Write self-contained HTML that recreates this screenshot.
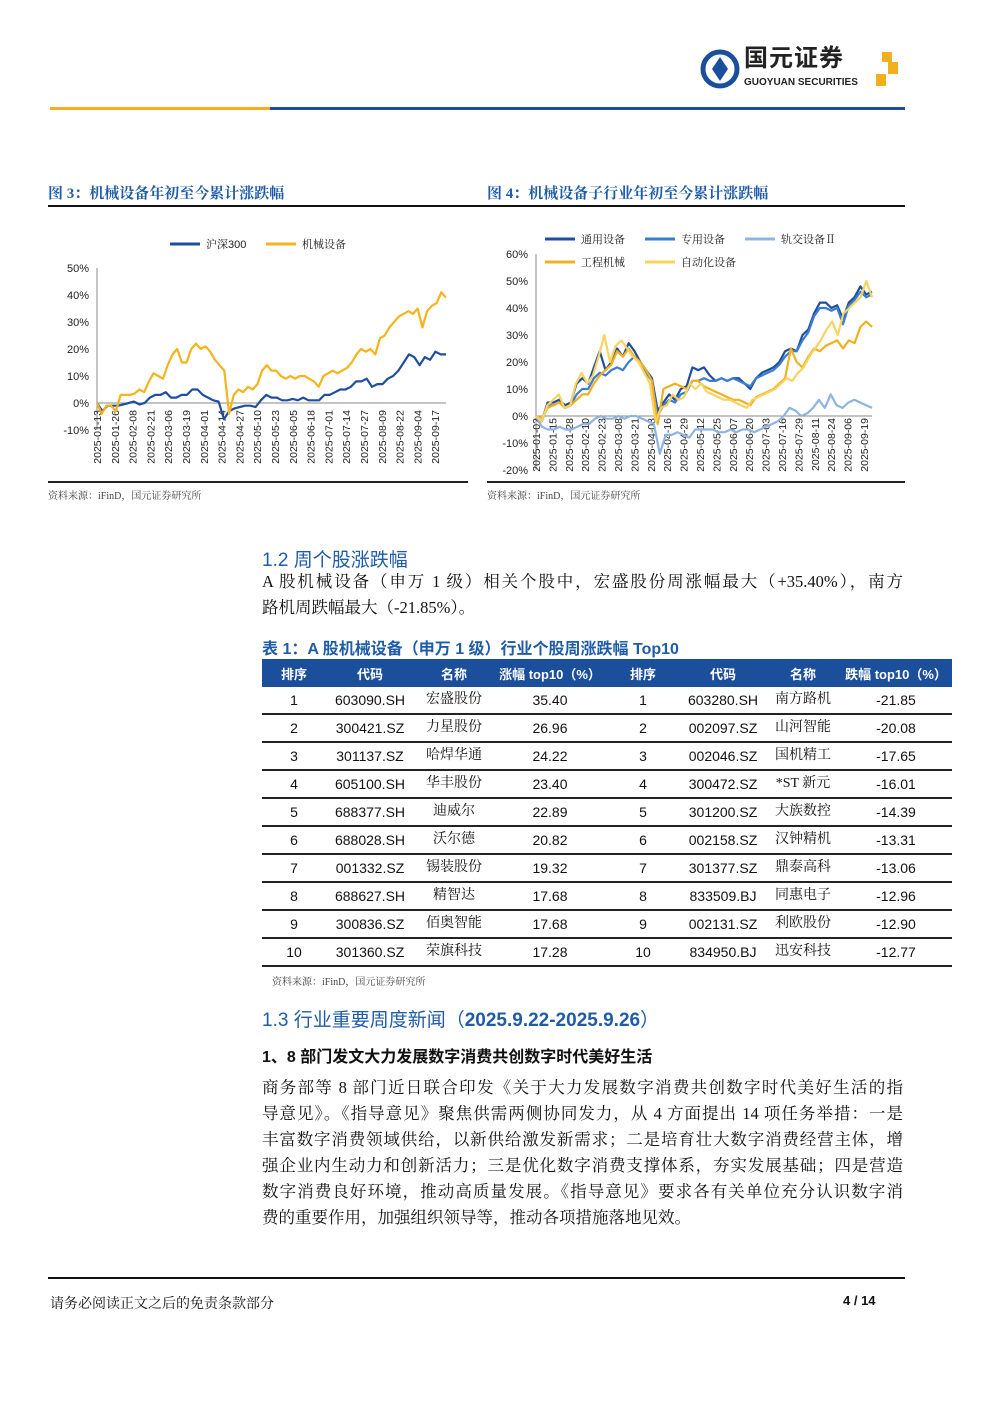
<!DOCTYPE html>
<html><head><meta charset="utf-8">
<style>
body{margin:0;background:#fff;}
#page{position:relative;width:1000px;height:1414px;overflow:hidden;background:#fff;font-family:"Liberation Sans","Noto Sans CJK SC",sans-serif;color:#111;}
.abs{position:absolute;white-space:nowrap;}
.ser{font-family:"Liberation Serif","Noto Serif CJK SC",serif;}
.blue{color:#1f5ca8;}
.line{position:absolute;left:262px;width:641px;font-size:16.5px;line-height:20px;text-align:justify;text-align-last:justify;white-space:nowrap;font-family:"Liberation Serif","Noto Serif CJK SC",serif;overflow:hidden;}
table{border-collapse:collapse;position:absolute;left:262px;top:659px;width:690px;font-size:14px;table-layout:fixed;}
th{background:#1b4f9c;color:#fff;height:28px;padding:0;font-weight:bold;font-size:13px;white-space:nowrap;}
td{height:26px;padding:0;text-align:center;border-bottom:2px solid #222;white-space:nowrap;line-height:26px;}
td.n{font-family:"Liberation Serif","Noto Serif CJK SC",serif;}
</style></head><body>
<div id="page">
<div>
<svg class="abs" style="left:700px;top:48px" width="210" height="42">
<circle cx="20" cy="21" r="17" fill="none" stroke="#1b4f9c" stroke-width="5"/>
<path d="M20 9 L28 21 L20 33 L12 21Z" fill="#1b4f9c"/>
<rect x="182" y="4" width="10" height="10" fill="#f2b01e"/><rect x="188" y="14" width="10" height="12" fill="#f2b01e"/><rect x="176" y="26" width="10" height="12" fill="#f2b01e"/>
</svg>
<div class="abs" style="left:744px;top:44px;font-size:24px;line-height:30px;font-weight:bold;color:#222;letter-spacing:1px">国元证券</div>
<div class="abs" style="left:744px;top:77px;font-size:10px;line-height:12px;font-weight:bold;color:#222">GUOYUAN SECURITIES</div>
</div>
<div class="abs" style="left:50px;top:107px;width:220px;height:3px;background:#f2b01e"></div>
<div class="abs" style="left:270px;top:107px;width:635px;height:3px;background:#1b4f9c"></div>

<div class="abs blue ser" style="left:48px;top:182px;font-size:15px;font-weight:bold">图 3：机械设备年初至今累计涨跌幅</div>
<div class="abs blue ser" style="left:487px;top:182px;font-size:15px;font-weight:bold">图 4：机械设备子行业年初至今累计涨跌幅</div>
<div class="abs" style="left:48px;top:205px;width:857px;height:1.5px;background:#111"></div>

<svg id="c1" class="abs" style="left:0;top:0" width="470" height="480"></svg>
<svg id="c2" class="abs" style="left:470px;top:0" width="450" height="480"></svg>
<div class="abs" style="left:48px;top:481px;width:420px;height:1.5px;background:#222"></div>
<div class="abs" style="left:487px;top:481px;width:418px;height:1.5px;background:#222"></div>
<div class="abs ser" style="left:48px;top:487px;font-size:10px;color:#444">资料来源：iFinD，国元证券研究所</div>
<div class="abs ser" style="left:487px;top:487px;font-size:10px;color:#444">资料来源：iFinD，国元证券研究所</div>

<div class="abs blue" style="left:262px;top:545px;font-size:19px">1.2 周个股涨跌幅</div>
<div class="line" style="top:572px">A 股机械设备（申万 1 级）相关个股中，宏盛股份周涨幅最大（+35.40%），南方</div>
<div class="line" style="top:598px;text-align-last:left">路机周跌幅最大（-21.85%）。</div>
<div class="abs blue" style="left:262px;top:635px;font-size:16px;font-weight:bold">表 1：A 股机械设备（申万 1 级）行业个股周涨跌幅 Top10</div>

<table>
<colgroup><col style="width:64px"><col style="width:88px"><col style="width:80px"><col style="width:112px"><col style="width:74px"><col style="width:86px"><col style="width:74px"><col style="width:112px"></colgroup>
<tr><th>排序</th><th>代码</th><th>名称</th><th>涨幅 top10（%）</th><th>排序</th><th>代码</th><th>名称</th><th>跌幅 top10（%）</th></tr>
<tr><td>1</td><td>603090.SH</td><td class="n">宏盛股份</td><td>35.40</td><td>1</td><td>603280.SH</td><td class="n">南方路机</td><td>-21.85</td></tr>
<tr><td>2</td><td>300421.SZ</td><td class="n">力星股份</td><td>26.96</td><td>2</td><td>002097.SZ</td><td class="n">山河智能</td><td>-20.08</td></tr>
<tr><td>3</td><td>301137.SZ</td><td class="n">哈焊华通</td><td>24.22</td><td>3</td><td>002046.SZ</td><td class="n">国机精工</td><td>-17.65</td></tr>
<tr><td>4</td><td>605100.SH</td><td class="n">华丰股份</td><td>23.40</td><td>4</td><td>300472.SZ</td><td class="n">*ST 新元</td><td>-16.01</td></tr>
<tr><td>5</td><td>688377.SH</td><td class="n">迪威尔</td><td>22.89</td><td>5</td><td>301200.SZ</td><td class="n">大族数控</td><td>-14.39</td></tr>
<tr><td>6</td><td>688028.SH</td><td class="n">沃尔德</td><td>20.82</td><td>6</td><td>002158.SZ</td><td class="n">汉钟精机</td><td>-13.31</td></tr>
<tr><td>7</td><td>001332.SZ</td><td class="n">锡装股份</td><td>19.32</td><td>7</td><td>301377.SZ</td><td class="n">鼎泰高科</td><td>-13.06</td></tr>
<tr><td>8</td><td>688627.SH</td><td class="n">精智达</td><td>17.68</td><td>8</td><td>833509.BJ</td><td class="n">同惠电子</td><td>-12.96</td></tr>
<tr><td>9</td><td>300836.SZ</td><td class="n">佰奥智能</td><td>17.68</td><td>9</td><td>002131.SZ</td><td class="n">利欧股份</td><td>-12.90</td></tr>
<tr><td>10</td><td>301360.SZ</td><td class="n">荣旗科技</td><td>17.28</td><td>10</td><td>834950.BJ</td><td class="n">迅安科技</td><td>-12.77</td></tr>
</table>
<div class="abs ser" style="left:272px;top:973px;font-size:10px;color:#444">资料来源：iFinD，国元证券研究所</div>

<div class="abs blue" style="left:262px;top:1005px;font-size:19px">1.3 行业重要周度新闻（<b>2025.9.22-2025.9.26</b>）</div>
<div class="abs" style="left:262px;top:1043px;font-size:16px;font-weight:bold">1、8 部门发文大力发展数字消费共创数字时代美好生活</div>
<div class="line" style="top:1078px">商务部等 8 部门近日联合印发《关于大力发展数字消费共创数字时代美好生活的指</div>
<div class="line" style="top:1104px">导意见》。《指导意见》聚焦供需两侧协同发力，从 4 方面提出 14 项任务举措：一是</div>
<div class="line" style="top:1130px">丰富数字消费领域供给，以新供给激发新需求；二是培育壮大数字消费经营主体，增</div>
<div class="line" style="top:1156px">强企业内生动力和创新活力；三是优化数字消费支撑体系，夯实发展基础；四是营造</div>
<div class="line" style="top:1182px">数字消费良好环境，推动高质量发展。《指导意见》要求各有关单位充分认识数字消</div>
<div class="line" style="top:1208px;text-align-last:left">费的重要作用，加强组织领导等，推动各项措施落地见效。</div>

<div class="abs" style="left:48px;top:1277px;width:857px;height:2px;background:#111"></div>
<div class="abs ser" style="left:50px;top:1293px;font-size:14px">请务必阅读正文之后的免责条款部分</div>
<div class="abs" style="left:843px;top:1293px;font-size:13px;font-weight:bold">4 / 14</div>
</div>

<script>
const c1Ticks = [50,40,30,20,10,0,-10];
const c1Dates = ["2025-01-13","2025-01-26","2025-02-08","2025-02-21","2025-03-06","2025-03-19","2025-04-01","2025-04-14","2025-04-27","2025-05-10","2025-05-23","2025-06-05","2025-06-18","2025-07-01","2025-07-14","2025-07-27","2025-08-09","2025-08-22","2025-09-04","2025-09-17"];
const c1Names = ["沪深300","机械设备"];
const hs300 = [0,-3,-1,-1,-1,-0.5,0,0.5,-0.5,0,2,3,3,4,2,2,3,3,5,5,3,2,1,0.5,-6,-3,-2,-1.5,-1,-1,-1.5,1,3,2,2,1,1,1.5,1,2,1,1,1,3,3,4,5,5,6,8,8,9,6,7,7,9,10,12,15,18,17,14,17,16,19,18,18];
const jixie = [0,-4,-1,-1,-3,3,3,3,3.5,5,4,8,11,10,9,14,18,20,15,15,20,22,20,21,19,16,14,12,-4,3,5,4,6,5,7,12,14,12,12,10,9,10,9,10,10,9,8,6,10,11,12,11,12,13,15,18,20,19,20,18,24,25,28,30,32,33,34,33,35,28,34,36,37,41,39];
const c2Ticks = [60,50,40,30,20,10,0,-10,-20];
const c2Dates = ["2025-01-02","2025-01-15","2025-01-28","2025-02-10","2025-02-23","2025-03-08","2025-03-21","2025-04-03","2025-04-16","2025-04-29","2025-05-12","2025-05-25","2025-06-07","2025-06-20","2025-07-03","2025-07-16","2025-07-29","2025-08-11","2025-08-24","2025-09-06","2025-09-19"];
const c2Names = ["通用设备","专用设备","轨交设备Ⅱ","工程机械","自动化设备"];
const tongyong = [0,-2,5,5,6,4,5,12,14,12,18,24,17,20,25,22,27,24,20,17,14,2,5,8,6,10,11,18,17,18,15,13,14,13,14,14,12,10,14,16,17,18,20,24,25,24,30,32,38,42,42,40,41,36,42,44,48,45,46];
const zhuanyong = [0,-2,4,4,5,3,4,8,10,10,14,16,15,17,18,17,20,22,19,16,13,0,4,6,5,8,9,13,13,14,13,13,14,13,14,13,12,11,14,15,16,17,19,22,24,24,28,31,37,40,40,39,40,34,41,43,46,44,45];
const guijiao = [0,-4,-5,-5,-4,-5,-5,-4,-3,-3,-1,0,-1,-1,0,-1,0,0,-1,-2,-3,-14,-7,-7,-6,-7,-8,-5,-5,-5,-5,-6,-6,-5,-6,-5,-5,-6,-5,-4,-3,-2,0,3,2,0,1,3,6,3,8,4,3,5,6,5,4,3];
const gongcheng = [0,-1,3,4,5,3,4,6,8,8,12,15,17,19,24,22,25,22,20,17,13,-3,10,11,12,11,10,13,13,11,10,9,8,7,6,6,5,4,7,8,9,10,12,14,25,20,18,22,25,24,26,27,28,25,28,27,33,35,33];
const zidonghua = [0,-2,4,6,8,3,4,12,16,12,15,22,30,20,26,28,25,22,20,16,12,-2,3,4,8,6,7,12,10,12,9,8,7,6,6,5,4,3,6,7,8,9,10,12,14,13,16,18,22,25,28,32,35,30,38,40,42,44,50,44];

const NS="http://www.w3.org/2000/svg";
function mk(svg,tag,attrs,txt){const e=document.createElementNS(NS,tag);for(const k in attrs)e.setAttribute(k,attrs[k]);if(txt!==undefined)e.textContent=txt;svg.appendChild(e);return e;}

function drawChart(svg,cfg){
  const yS=v=>cfg.y0+(cfg.yMax-v)/(cfg.yMax-cfg.yMin)*(cfg.y1-cfg.y0);
  const xIdx=(i,n)=>cfg.x0+i/(n-1)*(cfg.x1-cfg.x0);
  const ya=mk(svg,'line',{x1:cfg.x0,x2:cfg.x0,y1:cfg.y0,y2:cfg.y1,stroke:'#888','stroke-width':1});
  
  
  cfg.ticks.forEach(t=>{
    const tl=mk(svg,'text',{x:cfg.x0-8,y:yS(t)+4,'text-anchor':'end','font-size':11,fill:'#222','font-family':'Liberation Sans, sans-serif'},t+'%');
    
    
  });
  const xa=mk(svg,'line',{x1:cfg.x0,x2:cfg.x1,y1:yS(0),y2:yS(0),stroke:'#888','stroke-width':1});
  
  
  cfg.dates.forEach((d,i)=>{
    const x=cfg.x0+i*cfg.dStep+4;
    const tx=mk(svg,'text',{x:0,y:0,transform:`translate(${x},${cfg.labTop}) rotate(-90)`,'text-anchor':'end','font-size':10.5,fill:'#222','font-family':'Liberation Sans, sans-serif'},d);
    
    
  });
  cfg.series.forEach(s=>{
    const pts=s.data.map((v,i)=>xIdx(i,s.data.length).toFixed(1)+','+yS(v).toFixed(1)).join(' ');
    const pl=mk(svg,'polyline',{points:pts,fill:'none',stroke:s.color,'stroke-width':2.2,'stroke-linejoin':'round'});
    
    
    const lg=mk(svg,'line',{x1:s.lx,x2:s.lx+30,y1:s.ly,y2:s.ly,stroke:s.color,'stroke-width':3});
    
    
    const lt=mk(svg,'text',{x:s.lx+36,y:s.ly+4,'font-size':11,fill:'#222','font-family':'Liberation Sans, Noto Serif CJK SC, serif'},s.name);
    
    
  });
}
drawChart(document.getElementById('c1'),{x0:97,x1:446,y0:268,y1:430,yMax:50,yMin:-10,ticks:c1Ticks,dates:c1Dates,dStep:17.8,labTop:410,
  series:[{key:'hs300',name:c1Names[0],data:hs300,color:'#1f4ea0',lx:170,ly:244},{key:'jixie',name:c1Names[1],data:jixie,color:'#f5b31c',lx:266,ly:244}]});
drawChart(document.getElementById('c2'),{x0:66,x1:402,y0:254,y1:470,yMax:60,yMin:-20,ticks:c2Ticks,dates:c2Dates,dStep:16.4,labTop:418,
  series:[{key:'tongyong',name:c2Names[0],data:tongyong,color:'#1f4e9c',lx:75,ly:239},
          {key:'zhuanyong',name:c2Names[1],data:zhuanyong,color:'#3b7dd0',lx:175,ly:239},
          {key:'guijiao',name:c2Names[2],data:guijiao,color:'#8db4e2',lx:275,ly:239},
          {key:'gongcheng',name:c2Names[3],data:gongcheng,color:'#f2b01e',lx:75,ly:262},
          {key:'zidonghua',name:c2Names[4],data:zidonghua,color:'#f7d462',lx:175,ly:262}]});
</script>
</body></html>
